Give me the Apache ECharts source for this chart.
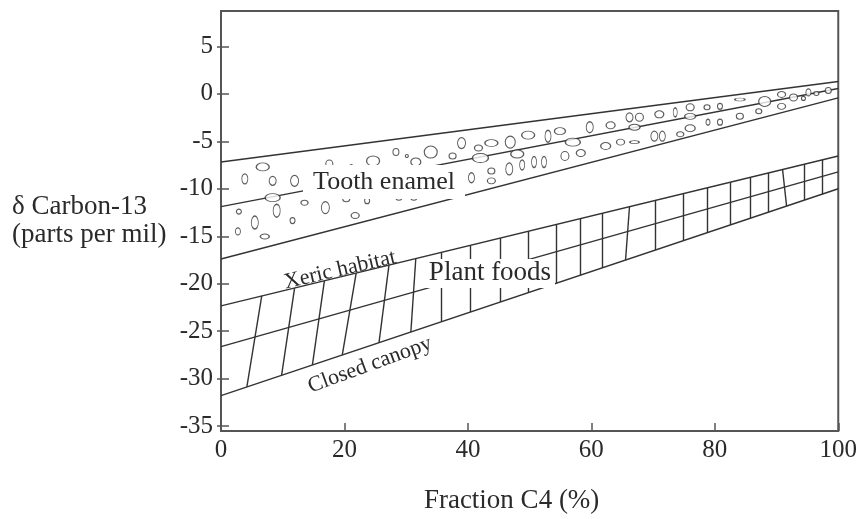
<!DOCTYPE html>
<html>
<head>
<meta charset="utf-8">
<script src="https://cdn.jsdelivr.net/npm/echarts@6/dist/echarts.min.js"></script>
<style>
  html, body { margin: 0; padding: 0; background: #fff; }
  #chart { width: 860px; height: 519px; }
</style>
</head>
<body>
<div id="chart"></div>
<script>
// ---- data ----
const xTicks = [0, 20, 40, 60, 80, 100];
const yTicks = [5, 0, -5, -10, -15, -20, -25, -30, -35];

// Tooth enamel band (upper, middle, lower boundary)
const enamelUpper  = [[0, -7.17], [100, 1.31]];
const enamelMiddle = [[0, -11.88], [100, 0.57]];
const enamelLower  = [[0, -17.39], [100, -0.42]];

// Plant foods band (xeric habitat, middle, closed canopy)
const plantUpper  = [[0, -22.34], [100, -6.54]];
const plantMiddle = [[0, -26.63], [100, -8.21]];
const plantLower  = [[0, -31.79], [100, -9.99]];

// cross-hatch segments of the plant band (top end, bottom end)
const hatchTopX = [6.60, 11.92, 16.75, 21.90, 27.21, 31.56, 35.75, 40.42, 45.25, 49.76, 54.27, 58.13, 61.84, 66.18, 70.37, 74.88, 78.74, 82.45, 85.67, 88.73, 90.98, 94.52, 97.42];
const hatchTopY = [-21.29, -20.46, -19.69, -18.88, -18.04, -17.35, -16.69, -15.96, -15.19, -14.48, -13.77, -13.15, -12.57, -11.89, -11.22, -10.51, -9.90, -9.31, -8.80, -8.32, -7.96, -7.41, -6.95];
const hatchBottomX = [4.19, 9.82, 14.81, 19.65, 25.60, 30.76, 35.75, 40.42, 45.25, 49.76, 54.27, 58.13, 61.84, 65.54, 70.37, 74.88, 78.74, 82.45, 85.67, 88.73, 91.63, 94.52, 97.42];
const hatchBottomY = [-30.88, -29.64, -28.55, -27.51, -26.21, -25.08, -23.99, -22.98, -21.92, -20.95, -19.96, -19.12, -18.31, -17.51, -16.45, -15.47, -14.63, -13.82, -13.12, -12.45, -11.81, -11.19, -10.56];

// tooth enamel measurements (ellipse centres)
const enamelX = [3.86, 6.76, 8.37, 11.92, 8.37, 2.90, 5.48, 9.02, 11.59, 2.74, 7.09,
  17.55, 21.10, 24.64, 28.34, 30.11, 31.56, 33.98, 37.52, 38.97, 41.71, 42.03, 43.80, 46.86, 47.99,
  49.76, 52.98, 54.91, 57.00, 59.74, 55.72, 58.29, 40.58, 43.80, 43.80, 46.70, 48.79, 50.72, 52.33,
  13.53, 16.91, 20.29, 23.67, 21.74, 28.82, 31.24,
  63.12, 62.32, 66.18, 67.79, 66.99, 64.73, 66.99, 70.21, 71.50, 71.01, 73.59, 76.01, 76.01, 74.40,
  76.01, 78.74, 80.84, 78.90, 80.84, 84.06, 84.06, 87.12, 88.08, 90.82, 90.82, 92.75, 94.36, 95.17,
  96.46, 98.39];
const enamelY = [-8.95, -7.69, -9.16, -9.16, -10.93, -12.40, -13.55, -12.30, -13.34, -14.49, -15.02,
  -7.38, -7.59, -7.06, -6.12, -6.54, -7.17, -6.12, -6.54, -5.18, -5.70, -6.75, -5.18, -5.08, -6.33,
  -4.34, -4.45, -3.92, -5.08, -3.51, -6.54, -6.23, -8.84, -8.11, -9.16, -7.90, -7.48, -7.17, -7.17,
  -11.46, -11.98, -11.04, -11.25, -12.82, -10.93, -10.93,
  -3.30, -5.49, -2.46, -2.46, -3.51, -5.08, -5.08, -4.45, -4.45, -2.15, -1.94, -1.41, -2.36, -4.24,
  -3.61, -1.41, -1.31, -2.98, -2.98, -0.58, -2.36, -1.83, -0.79, -0.05, -1.31, -0.37, -0.47, 0.16,
  0.05, 0.37];
// ellipse marker sizes (px)
const markerW = [6, 13, 7, 8, 15, 5, 7, 7, 5, 5, 9,
  7, 3, 13, 6, 3, 10, 13, 7, 8, 8, 16, 13, 10, 13,
  13, 6, 11, 15, 7, 8, 9, 6, 7, 8, 7, 5, 5, 5,
  7, 8, 7, 5, 8, 6, 6,
  9, 10, 7, 8, 11, 8, 9, 7, 6, 9, 4, 8, 11, 7,
  10, 6, 5, 4, 5, 10, 7, 6, 12, 8, 8, 8, 4, 5,
  5, 6];
const markerH = [10, 8, 9, 11, 8, 5, 13, 13, 6, 7, 5,
  8, 3, 10, 7, 3, 8, 12, 6, 11, 6, 9, 7, 12, 8,
  8, 12, 7, 8, 11, 9, 7, 10, 6, 6, 12, 10, 11, 11,
  5, 12, 6, 6, 6, 5, 5,
  7, 7, 9, 8, 6, 6, 3, 10, 10, 7, 9, 7, 6, 5,
  7, 5, 6, 6, 6, 3, 6, 5, 10, 6, 6, 7, 4, 7,
  4, 6];

// ---- chart ----
const chart = echarts.init(document.getElementById('chart'), null, { renderer: 'canvas' });
const FONT = '"Liberation Serif", "Times New Roman", serif';
const INK = '#2a2a2a';
const lineStyle = { color: '#333', width: 1.4 };

function bandLine(name, data) {
  return { name, type: 'line', data, symbol: 'none', silent: true, lineStyle, z: 3 };
}

const hatchData = hatchTopX.map((x, i) => ({ coords: [[x, hatchTopY[i]], [hatchBottomX[i], hatchBottomY[i]]] }));
const enamelData = enamelX.map((x, i) => [x, enamelY[i]]);

chart.setOption({
  animation: false,
  backgroundColor: '#fff',
  grid: { left: 221, right: 18, top: 11, bottom: 85, show: true, borderColor: '#555', borderWidth: 2, backgroundColor: 'transparent' },
  xAxis: {
    type: 'value', min: 0, max: 100, interval: 20,
    axisLine: { show: false, onZero: false },
    axisTick: { show: true, inside: true, length: 8, customValues: xTicks, lineStyle: { color: '#555', width: 1.5 } },
    splitLine: { show: false },
    axisLabel: { color: INK, fontFamily: FONT, fontSize: 25, margin: 7, customValues: xTicks },
    name: 'Fraction C4 (%)', nameLocation: 'middle', nameGap: 56,
    nameTextStyle: { color: INK, fontFamily: FONT, fontSize: 27, padding: [0, 36, 0, 0] }
  },
  yAxis: {
    type: 'value', min: -35.52, max: 8.74, offset: -8,
    axisLine: { show: false, onZero: false },
    axisTick: { show: true, inside: false, length: 12, customValues: yTicks, lineStyle: { color: '#555', width: 1.5 } },
    splitLine: { show: false },
    axisLabel: { color: INK, fontFamily: FONT, fontSize: 25, margin: 16, customValues: yTicks },
    name: 'δ Carbon-13\n(parts per mil)', nameLocation: 'middle', nameRotate: 0, nameGap: 217,
    nameTextStyle: { color: INK, fontFamily: FONT, fontSize: 27, align: 'left', verticalAlign: 'middle', lineHeight: 28, padding: [0, 0, 0, 0] }
  },
  series: [
    bandLine('Tooth enamel upper', enamelUpper),
    bandLine('Tooth enamel middle', enamelMiddle),
    bandLine('Tooth enamel lower', enamelLower),
    bandLine('Xeric habitat', plantUpper),
    bandLine('Plant foods middle', plantMiddle),
    bandLine('Closed canopy', plantLower),
    {
      name: 'Plant foods hatch', type: 'lines', coordinateSystem: 'cartesian2d',
      data: hatchData, silent: true, lineStyle: { color: '#333', width: 1.4, opacity: 1 }, z: 3
    },
    {
      name: 'Tooth enamel samples', type: 'scatter', data: enamelData, symbol: 'circle',
      symbolSize: (val, params) => [markerW[params.dataIndex], markerH[params.dataIndex]],
      itemStyle: { color: '#fff', borderColor: '#333', borderWidth: 1.1 }, z: 4, silent: true
    }
  ],
  graphic: [
    { type: 'rect', z: 100, shape: { x: 303, y: 165, width: 162, height: 34 }, style: { fill: '#fff' } },
    { type: 'text', z: 101, x: 384, y: 182, style: { text: 'Tooth enamel', font: '26px ' + FONT, fill: INK, align: 'center', verticalAlign: 'middle', textAlign: 'center', textVerticalAlign: 'middle' } },
    { type: 'rect', z: 100, shape: { x: 426, y: 259, width: 129, height: 29 }, style: { fill: '#fff' } },
    { type: 'text', z: 101, x: 490, y: 273, style: { text: 'Plant foods', font: '27px ' + FONT, fill: INK, align: 'center', verticalAlign: 'middle', textAlign: 'center', textVerticalAlign: 'middle' } },
    { type: 'text', z: 101, x: 340, y: 270, rotation: 13 * Math.PI / 180, style: { text: 'Xeric habitat', font: '22px ' + FONT, fill: INK, align: 'center', verticalAlign: 'middle', textAlign: 'center', textVerticalAlign: 'middle' } },
    { type: 'text', z: 101, x: 370, y: 365, rotation: 20 * Math.PI / 180, style: { text: 'Closed canopy', font: '22px ' + FONT, fill: INK, align: 'center', verticalAlign: 'middle', textAlign: 'center', textVerticalAlign: 'middle' } }
  ]
});
</script>
</body>
</html>
